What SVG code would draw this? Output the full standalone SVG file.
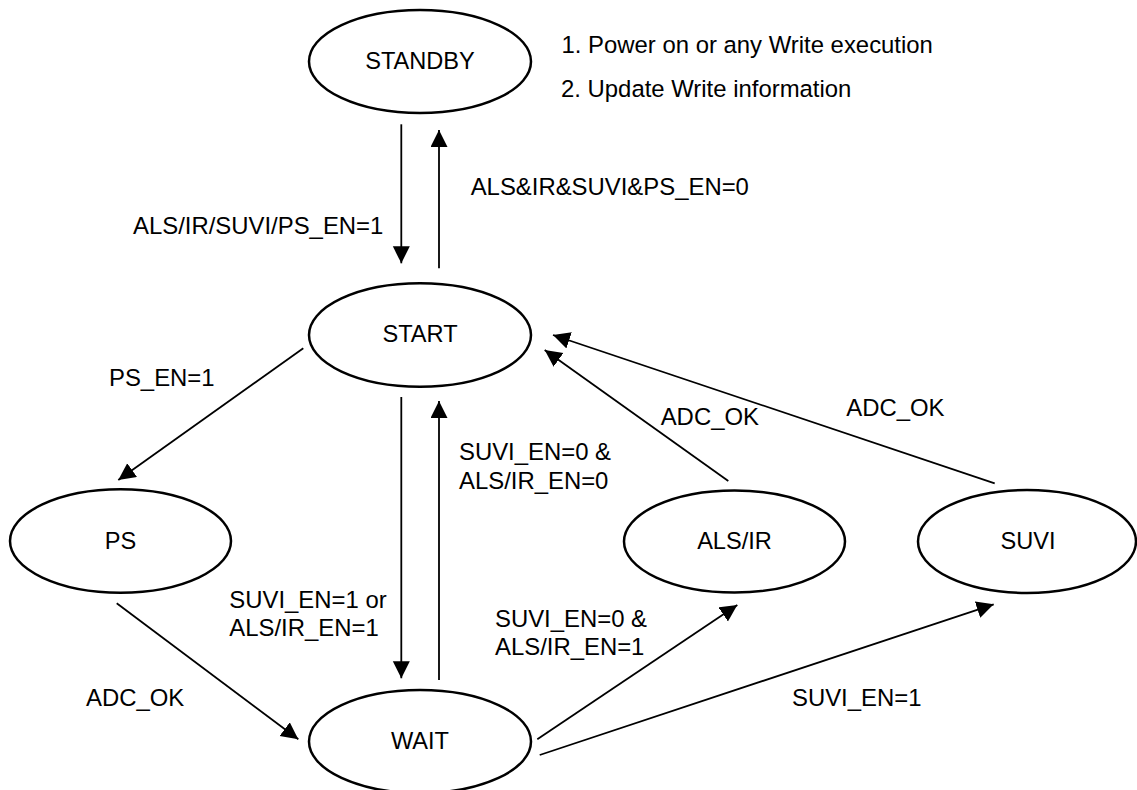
<svg xmlns="http://www.w3.org/2000/svg" width="1137" height="790" viewBox="0 0 1137 790">
<style>
  .node ellipse { fill: #ffffff; stroke: #000000; stroke-width: 2.5; }
  text { font-family: "Liberation Sans", Arial, sans-serif; font-size: 23.9px; fill: #000000; }
  .node text { font-size: 23.6px; }
  .c { text-anchor: middle; }
  #connectors line { stroke: #000000; stroke-width: 1.8; fill: none; marker-end: url(#arrow); }
</style>
<defs>
  <marker id="arrow" markerUnits="userSpaceOnUse" markerWidth="18" markerHeight="18" refX="17" refY="8.5" orient="auto">
    <path d="M0,0 L17,8.5 L0,17 z" fill="#000000"/>
  </marker>
</defs>
<rect width="1137" height="790" fill="#ffffff"/>

<g id="node-standby" class="node">
  <ellipse cx="420" cy="61.5" rx="111" ry="51.5"/>
  <text class="c" x="420" y="69">STANDBY</text>
</g>
<g id="node-start" class="node">
  <ellipse cx="420" cy="335" rx="111" ry="51.7"/>
  <text class="c" x="420" y="342">START</text>
</g>
<g id="node-ps" class="node">
  <ellipse cx="120.5" cy="541" rx="110.5" ry="51.7"/>
  <text class="c" x="120.5" y="549">PS</text>
</g>
<g id="node-alsir" class="node">
  <ellipse cx="734.5" cy="541.5" rx="110.5" ry="51"/>
  <text class="c" x="734.5" y="549">ALS/IR</text>
</g>
<g id="node-suvi" class="node">
  <ellipse cx="1027" cy="541.5" rx="109" ry="51.5"/>
  <text class="c" x="1028" y="549">SUVI</text>
</g>
<g id="node-wait" class="node">
  <ellipse cx="420" cy="741.5" rx="111" ry="51.5"/>
  <text class="c" x="420" y="748.5">WAIT</text>
</g>

<g id="connectors">
  <line x1="401.3" y1="124.3" x2="401.3" y2="263.3"/>
  <line x1="439" y1="268.3" x2="439" y2="130"/>
  <line x1="303.3" y1="348.3" x2="118.3" y2="480"/>
  <line x1="116.7" y1="603.3" x2="298.3" y2="739.3"/>
  <line x1="401.3" y1="397" x2="401.3" y2="678.3"/>
  <line x1="439" y1="680" x2="439" y2="401"/>
  <line x1="728.3" y1="481" x2="544.7" y2="350"/>
  <line x1="994.7" y1="483.3" x2="553" y2="335"/>
  <line x1="537.3" y1="739.3" x2="737.3" y2="605"/>
  <line x1="539.7" y1="755" x2="993.7" y2="604.3"/>
</g>

<g id="labels">
  <text x="561.5" y="53">1. Power on or any Write execution</text>
  <text x="561" y="97">2. Update Write information</text>
  <text x="133" y="233.5">ALS/IR/SUVI/PS_EN=1</text>
  <text x="470.7" y="195">ALS&amp;IR&amp;SUVI&amp;PS_EN=0</text>
  <text x="109" y="385.5">PS_EN=1</text>
  <text x="86" y="705.7">ADC_OK</text>
  <text x="229.3" y="607.7">SUVI_EN=1 or</text>
  <text x="229.3" y="636">ALS/IR_EN=1</text>
  <text x="459" y="460">SUVI_EN=0 &amp;</text>
  <text x="459" y="489.3">ALS/IR_EN=0</text>
  <text x="660.7" y="425">ADC_OK</text>
  <text x="846.3" y="415.7">ADC_OK</text>
  <text x="495" y="626.7">SUVI_EN=0 &amp;</text>
  <text x="495" y="655">ALS/IR_EN=1</text>
  <text x="792" y="705.7">SUVI_EN=1</text>
</g>
</svg>
